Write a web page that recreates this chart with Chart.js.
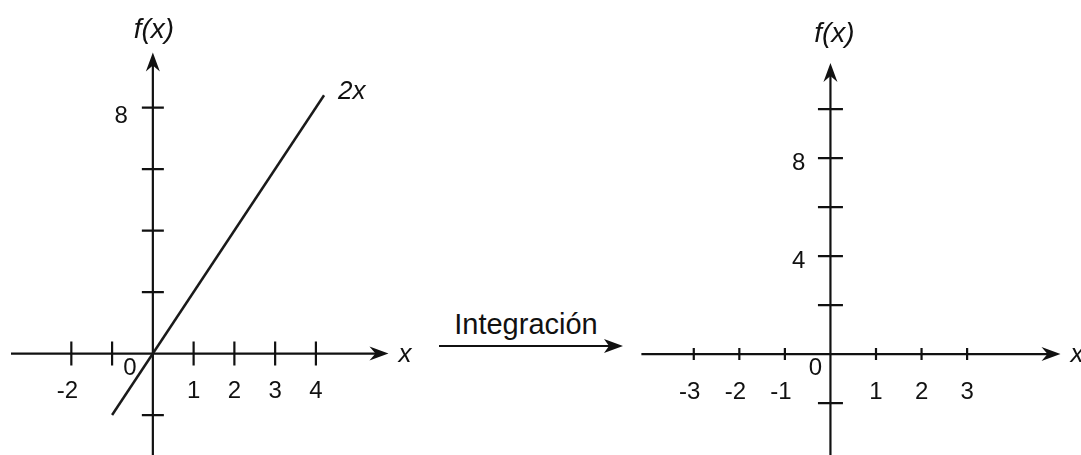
<!DOCTYPE html>
<html lang="es">
<head>
<meta charset="UTF-8">
<title>Integración de 2x</title>
<script src="https://cdn.jsdelivr.net/npm/chart.js"></script>
<style>
  body { margin: 0; background: #fff; }
  .wrap { position: relative; width: 1081px; height: 455px; overflow: hidden; }
  .wrap canvas, .wrap svg { position: absolute; top: 0; }
  #leftChart { left: 0; }
  #rightChart { left: 630px; }
  .middle { left: 0; pointer-events: none; }
</style>
</head>
<body>
<div class="wrap">
  <svg class="middle" width="1081" height="455">
    <text x="526" y="334" text-anchor="middle" font-family="'Liberation Sans', Arial, sans-serif" font-size="29" fill="#111">Integración</text>
    <line x1="439" y1="346" x2="610" y2="346" stroke="#111" stroke-width="2.2"/>
    <path d="M623 346 L604 339 L609 346 L604 353 Z" fill="#111"/>
  </svg>
  <canvas id="leftChart" width="428" height="455"></canvas>
  <canvas id="rightChart" width="451" height="455"></canvas>
</div>

<script>
  // f(x) = 2x, plotted on the left
  const lineX = [-1, 4.2];
  const lineY = [-2, 8.4];

  // left axes
  const leftXTicks = [-2, -1, 1, 2, 3, 4];
  const leftXLabels = ['-2', '', '1', '2', '3', '4'];
  const leftYTicks = [-2, 2, 4, 6, 8];
  const leftYLabels = ['', '', '', '', '8'];

  // right axes (empty, for the integral)
  const rightXTicks = [-3, -2, -1, 1, 2, 3];
  const rightXLabels = ['-3', '-2', '-1', '1', '2', '3'];
  const rightYTicks = [-2, 2, 4, 6, 8, 10];
  const rightYLabels = ['', '', '4', '', '8', ''];

  const FONT = '"Liberation Sans", Arial, sans-serif';
  const INK = '#111';

  function arrowHead(ctx, x, y, dir) {
    ctx.save();
    ctx.translate(x, y);
    if (dir === 'up') ctx.rotate(-Math.PI / 2);
    ctx.beginPath();
    ctx.moveTo(0, 0);
    ctx.lineTo(-19, -7);
    ctx.lineTo(-13, 0);
    ctx.lineTo(-19, 7);
    ctx.closePath();
    ctx.fill();
    ctx.restore();
  }

  // draws the cross-shaped axes, ticks and labels from the chart's own scales
  const axesPlugin = {
    id: 'axes',
    beforeDatasetsDraw(chart, args, o) {
      const ctx = chart.ctx;
      const xs = chart.scales.x, ys = chart.scales.y;
      const x0 = xs.getPixelForValue(0), y0 = ys.getPixelForValue(0);
      ctx.save();
      ctx.strokeStyle = INK;
      ctx.fillStyle = INK;
      ctx.lineWidth = 2.2;

      // x axis
      const xa = xs.getPixelForValue(o.xFrom), xb = xs.getPixelForValue(o.xTo);
      ctx.beginPath();
      ctx.moveTo(xa, y0);
      ctx.lineTo(xb - 10, y0);
      ctx.stroke();
      arrowHead(ctx, xb, y0, 'right');

      // y axis
      const ya = ys.getPixelForValue(o.yFrom), yb = ys.getPixelForValue(o.yTo);
      ctx.beginPath();
      ctx.moveTo(x0, ya);
      ctx.lineTo(x0, yb + 10);
      ctx.stroke();
      arrowHead(ctx, x0, yb, 'up');

      // tick marks
      ctx.beginPath();
      o.xTicks.forEach(v => {
        const px = xs.getPixelForValue(v);
        ctx.moveTo(px, y0 - o.xTickLen / 2);
        ctx.lineTo(px, y0 + o.xTickLen / 2);
      });
      o.yTicks.forEach(v => {
        const py = ys.getPixelForValue(v);
        ctx.moveTo(x0 - o.yTickLen / 2, py);
        ctx.lineTo(x0 + o.yTickLen / 2, py);
      });
      ctx.stroke();

      // tick labels
      ctx.font = '24px ' + FONT;
      ctx.textBaseline = 'middle';
      ctx.textAlign = 'center';
      const minusHalf = ctx.measureText('-').width / 2;
      o.xLabels.forEach((t, i) => {
        if (!t) return;
        let px = xs.getPixelForValue(o.xTicks[i]);
        if (t[0] === '-') px -= minusHalf;
        ctx.fillText(t, px, y0 + 38);
      });
      ctx.textAlign = 'right';
      o.yLabels.forEach((t, i) => {
        if (!t) return;
        ctx.fillText(t, x0 - 25, ys.getPixelForValue(o.yTicks[i]) + o.yLabelDy);
      });
      ctx.textAlign = 'center';
      ctx.fillText('0', x0 + o.zeroDx, y0 + o.zeroDy);

      // axis names
      ctx.font = 'italic 28px ' + FONT;
      ctx.fillText('f(x)', x0 + o.fxDx, o.fxY);
      ctx.font = 'italic 26px ' + FONT;
      ctx.textAlign = 'left';
      ctx.fillText('x', xb + 10, y0 + 1);

      // curve name at the end of the line
      if (o.curveName) {
        const ds = chart.data.datasets[0].data;
        const last = ds[ds.length - 1];
        ctx.fillText(o.curveName, xs.getPixelForValue(last.x) + 14, ys.getPixelForValue(last.y) - 4);
      }
      ctx.restore();
    }
  };

  function makeChart(id, datasets, range, axes) {
    return new Chart(document.getElementById(id), {
      type: 'scatter',
      data: { datasets: datasets },
      options: {
        responsive: false,
        animation: false,
        events: [],
        layout: { padding: 0 },
        scales: {
          x: { type: 'linear', display: false, min: range.x[0], max: range.x[1] },
          y: { type: 'linear', display: false, min: range.y[0], max: range.y[1] }
        },
        plugins: {
          legend: { display: false },
          tooltip: { enabled: false },
          axes: axes
        }
      },
      plugins: [axesPlugin]
    });
  }

  makeChart('leftChart', [{
    data: lineX.map((x, i) => ({ x: x, y: lineY[i] })),
    showLine: true,
    borderColor: '#1a1a1a',
    borderWidth: 2.5,
    pointRadius: 0
  }], { x: [-3.75, 6.75], y: [-3.3, 11.5] }, {
    xFrom: -3.48, xTo: 5.78, yFrom: -3.3, yTo: 9.79,
    xTicks: leftXTicks, xLabels: leftXLabels, xTickLen: 24,
    yTicks: leftYTicks, yLabels: leftYLabels, yTickLen: 22, yLabelDy: 9,
    zeroDx: -23, zeroDy: 15, fxDx: 1, fxY: 30,
    curveName: '2x'
  });

  makeChart('rightChart', [{ data: [] }], { x: [-4.4, 5.5], y: [-4.12, 14.45] }, {
    xFrom: -4.15, xTo: 5.05, yFrom: -4.12, yTo: 11.88,
    xTicks: rightXTicks, xLabels: rightXLabels, xTickLen: 12,
    yTicks: rightYTicks, yLabels: rightYLabels, yTickLen: 25, yLabelDy: 5,
    zeroDx: -15, zeroDy: 14, fxDx: 4, fxY: 34,
    curveName: ''
  });
</script>
</body>
</html>
